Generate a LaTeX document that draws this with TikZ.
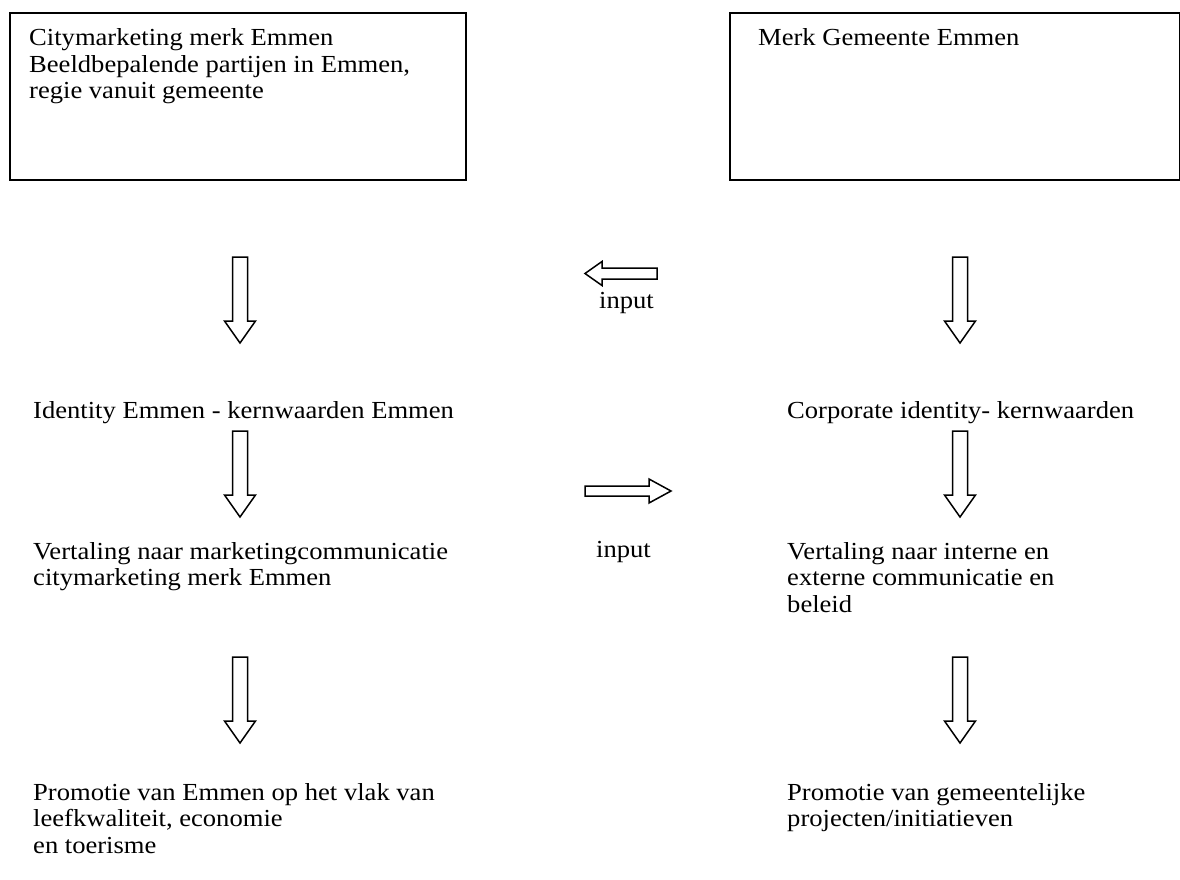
\documentclass[tikz,border=0pt]{standalone}
\usepackage{fontspec}
\setmainfont{Liberation Serif}[FakeStretch=1.085]
\newcommand{\txtlines}[1]{\begin{tabular}[t]{@{}l@{}}#1\end{tabular}}
\tikzset{
  box/.style={draw, line width=1.6pt, inner sep=0pt, anchor=north west},
  lbl/.style={inner sep=0pt, anchor=base west, font=\fontsize{24.5}{26.5}\selectfont},
  arr/.style={draw, line width=1.5pt, line join=miter, fill=white},
  downarrow/.pic={\path[arr] (-7.5,0) -- (7.5,0) -- (7.5,64) -- (15.5,64) -- (0,86) -- (-15.5,64) -- (-7.5,64) -- cycle;},
  leftarrow/.pic={\path[arr] (0,-5.5) -- (0,5.5) -- (-55,5.5) -- (-55,12) -- (-72,0) -- (-55,-12) -- (-55,-5.5) -- cycle;},
  rightarrow/.pic={\path[arr] (0,-5) -- (0,5) -- (64,5) -- (64,12) -- (86,0) -- (64,-12) -- (64,-5) -- cycle;}
}
\begin{document}
\begin{tikzpicture}[x=1pt,y=-1pt]
\useasboundingbox (0,0) rectangle (1180,880);
% boxes
\node[box, minimum width=456pt, minimum height=167pt] (boxL) at (9,12) {};
\node[box, minimum width=450pt, minimum height=167pt] (boxR) at (729,12) {};
\node[lbl] (tL) at (29,46) {\txtlines{Citymarketing merk Emmen\\Beeldbepalende partijen in Emmen,\\regie vanuit gemeente}};
\node[lbl] (tR) at (758,46) {Merk Gemeente Emmen};
% left column
\pic at (240,257) {downarrow};
\node[lbl] (idL) at (33,418) {Identity Emmen - kernwaarden Emmen};
\pic at (240,431) {downarrow};
\node[lbl] (vL) at (33,559) {\txtlines{Vertaling naar marketingcommunicatie\\citymarketing merk Emmen}};
\pic at (240,657) {downarrow};
\node[lbl] (pL) at (33,800) {\txtlines{Promotie van Emmen op het vlak van\\leefkwaliteit, economie\\en toerisme}};
% right column
\pic at (960,257) {downarrow};
\node[lbl] (idR) at (787,418) {Corporate identity- kernwaarden};
\pic at (960,431) {downarrow};
\node[lbl] (vR) at (787,559) {\txtlines{Vertaling naar interne en\\externe communicatie en\\beleid}};
\pic at (960,657) {downarrow};
\node[lbl] (pR) at (787,800) {\txtlines{Promotie van gemeentelijke\\projecten/initiatieven}};
% middle
\pic at (657,273.5) {leftarrow};
\node[lbl] (in1) at (599,308) {input};
\pic at (585,491) {rightarrow};
\node[lbl] (in2) at (596,557) {input};
\end{tikzpicture}
\end{document}
